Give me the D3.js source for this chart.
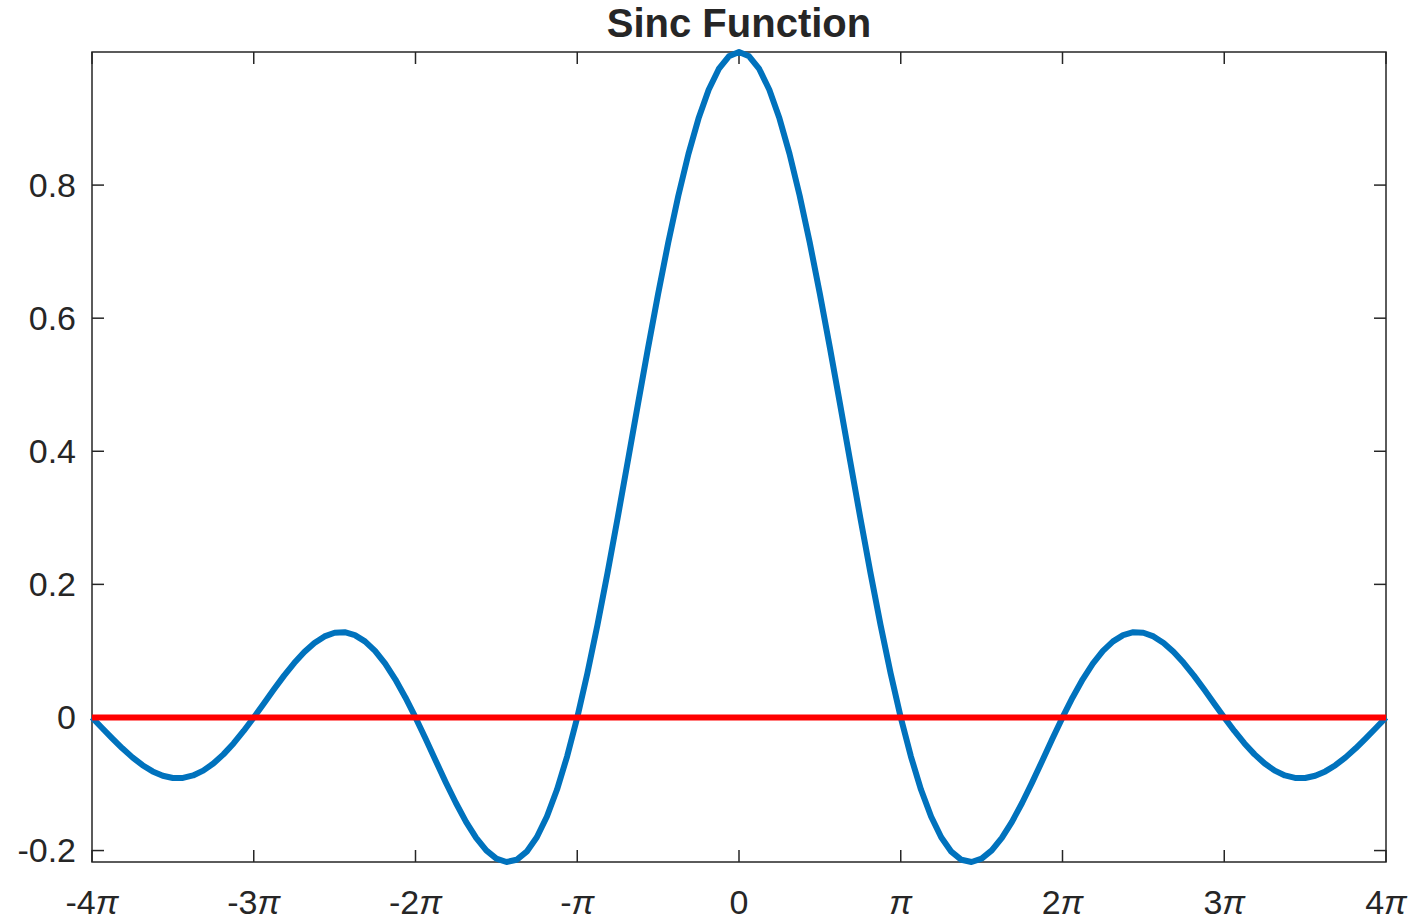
<!DOCTYPE html>
<html><head><meta charset="utf-8">
<script src="https://cdn.jsdelivr.net/npm/d3@7"></script>
<style>body{margin:0;background:#fff}text{font-family:"Liberation Sans",Arial,sans-serif;fill:#262626}</style>
</head><body><svg id="c" width="1418" height="923"></svg>
<script>
// x in multiples of pi (step pi/16), half curve 0..4pi, mirrored
const xHalf = d3.range(0, 65).map(k => k / 16);
const yHalf = [1, 0.9936, 0.9745, 0.9432, 0.9003, 0.8469, 0.7842, 0.7136,
  0.6366, 0.5550, 0.4705, 0.3850, 0.3001, 0.2177, 0.1392, 0.0662, 0,
  -0.0584, -0.1083, -0.1489, -0.1801, -0.2017, -0.2139, -0.2172,
  -0.2122, -0.1998, -0.1810, -0.1568, -0.1286, -0.0976, -0.0650, -0.0321, 0,
  0.0301, 0.0573, 0.0808, 0.1000, 0.1144, 0.1238, 0.1281,
  0.1273, 0.1218, 0.1120, 0.0985, 0.0818, 0.0629, 0.0424, 0.0211, 0,
  -0.0203, -0.0390, -0.0555, -0.0693, -0.0799, -0.0871, -0.0908,
  -0.0909, -0.0876, -0.0811, -0.0718, -0.0600, -0.0464, -0.0314, -0.0158, 0];
const xTicks = [-4, -3, -2, -1, 0, 1, 2, 3, 4];
const xTickLabels = ["-4", "-3", "-2", "-", "0", "", "2", "3", "4"];
const yTicks = [-0.2, 0, 0.2, 0.4, 0.6, 0.8];
const yTickLabels = ["-0.2", "0", "0.2", "0.4", "0.6", "0.8"];

const data = [];
for (let i = xHalf.length - 1; i > 0; i--) data.push([-xHalf[i], yHalf[i]]);
xHalf.forEach((x, i) => data.push([x, yHalf[i]]));

const svg = d3.select("#c");
const L = 92, R = 1386, T = 52, B = 862;
const x = d3.scaleLinear().domain([-4, 4]).range([L, R]);
const y = d3.scaleLinear().domain([-0.2172, 1]).range([B, T]);

svg.append("rect").attr("x", L).attr("y", T).attr("width", R - L).attr("height", B - T)
  .attr("fill", "none").attr("stroke", "#262626").attr("stroke-width", 1.5);

const tl = 12;
xTicks.forEach(t => {
  svg.append("line").attr("x1", x(t)).attr("x2", x(t)).attr("y1", B).attr("y2", B - tl).attr("stroke", "#262626").attr("stroke-width", 1.5);
  svg.append("line").attr("x1", x(t)).attr("x2", x(t)).attr("y1", T).attr("y2", T + tl).attr("stroke", "#262626").attr("stroke-width", 1.5);
});
yTicks.forEach((t, i) => {
  svg.append("line").attr("x1", L).attr("x2", L + tl).attr("y1", y(t)).attr("y2", y(t)).attr("stroke", "#262626").attr("stroke-width", 1.5);
  svg.append("line").attr("x1", R).attr("x2", R - tl).attr("y1", y(t)).attr("y2", y(t)).attr("stroke", "#262626").attr("stroke-width", 1.5);
  svg.append("text").attr("x", L - 16).attr("y", y(t)).attr("dy", "0.35em").attr("text-anchor", "end")
    .attr("font-size", 34).text(yTickLabels[i]);
});
xTicks.forEach((t, i) => {
  const tx = svg.append("text").attr("x", x(t)).attr("y", B + 52).attr("text-anchor", "middle").attr("font-size", 34);
  tx.append("tspan").text(xTickLabels[i]);
  if (t !== 0) tx.append("tspan").attr("font-style", "italic").text("π");
});

svg.append("text").attr("x", (L + R) / 2).attr("y", 37).attr("text-anchor", "middle")
  .attr("font-size", 40).attr("font-weight", "bold").text("Sinc Function");

const line = d3.line().x(d => x(d[0])).y(d => y(d[1]));
svg.append("path").datum(data).attr("d", line).attr("fill", "none")
  .attr("stroke", "#0072BD").attr("stroke-width", 6).attr("stroke-linejoin", "round");
svg.append("path").datum([[-4, 0], [4, 0]]).attr("d", line)
  .attr("stroke", "#ff0000").attr("stroke-width", 6);
</script></body></html>
